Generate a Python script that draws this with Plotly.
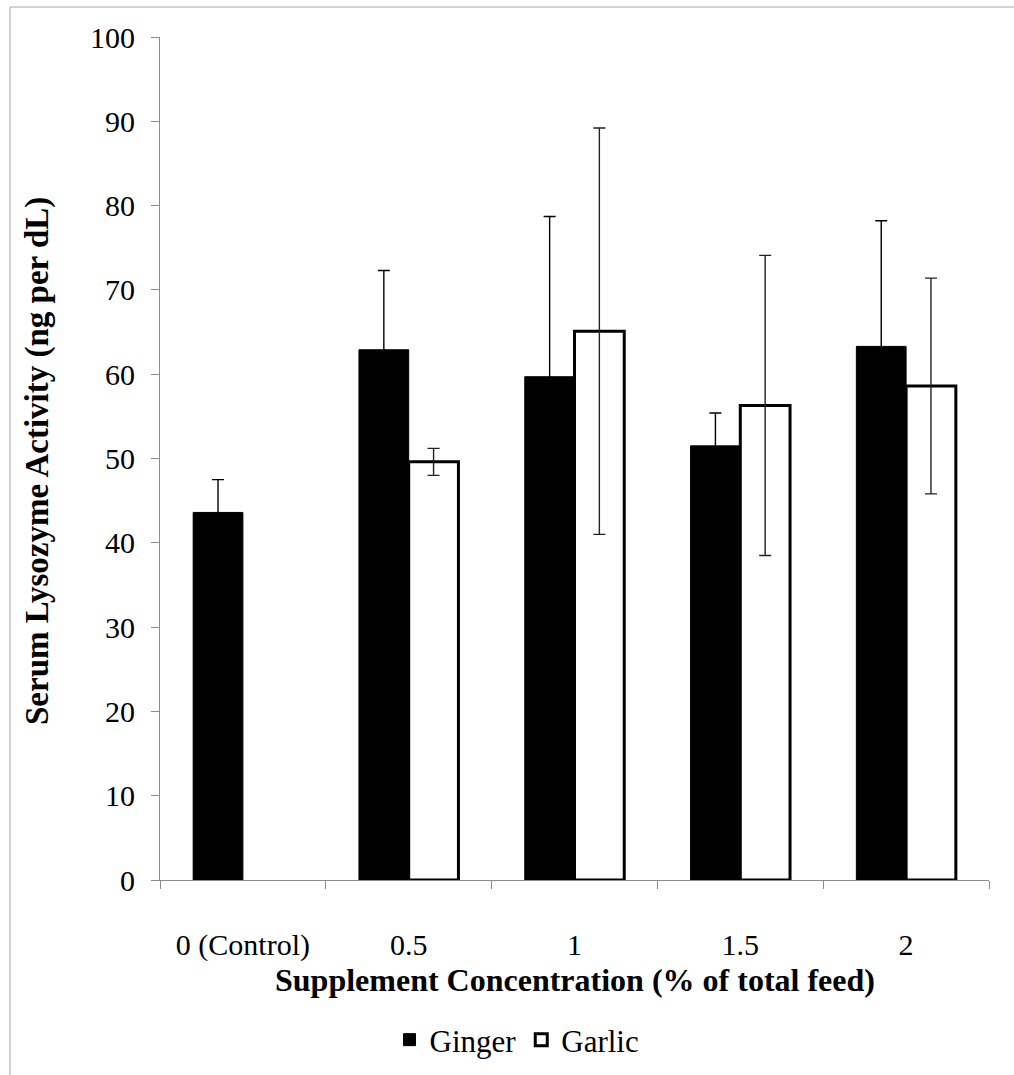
import plotly.graph_objects as go

categories = ["0 (Control)", "0.5", "1", "1.5", "2"]
ginger = [43.6, 62.9, 59.7, 51.5, 63.3]
ginger_err = [3.9, 9.4, 19.0, 3.9, 14.9]
garlic = [None, 49.6, 65.1, 56.3, 58.6]
garlic_err = [None, 1.6, 24.1, 17.8, 12.8]
y_ticks = [0, 10, 20, 30, 40, 50, 60, 70, 80, 90, 100]

W, H = 1014, 1075
L, R, T, B = 160, 25, 37, 195
pw, ph = W - L - R, H - T - B

def px(x):
    return (x - L) / pw

def py(y):
    return (H - B - y) / ph

FONT = "Liberation Serif, Times New Roman, serif"
AX = "#8c8c8c"

fig = go.Figure()
fig.add_trace(go.Bar(
    name="Ginger", x=categories, y=ginger,
    marker=dict(color="black", line=dict(color="black", width=1)),
    error_y=dict(type="data", array=ginger_err, color="black", thickness=1.4, width=6),
))
fig.add_trace(go.Bar(
    name="Garlic", x=categories, y=garlic,
    marker=dict(color="white", line=dict(color="black", width=3)),
    error_y=dict(type="data", array=garlic_err, color="#222222", thickness=1.4, width=6),
))

fig.update_layout(
    width=W, height=H,
    margin=dict(l=L, r=R, t=T, b=B, autoexpand=False),
    paper_bgcolor="white", plot_bgcolor="white",
    font=dict(family=FONT, color="black", size=30),
    barmode="group", bargap=0.4, bargroupgap=0,
    showlegend=True,
    legend=dict(orientation="h", x=px(517), xanchor="center", y=py(1040), yanchor="middle",
                font=dict(size=31, family=FONT), itemwidth=30, traceorder="normal",
                bgcolor="rgba(0,0,0,0)"),
    xaxis=dict(
        type="category", showgrid=False, showline=True, linecolor=AX, linewidth=1,
        ticks="outside", tickson="boundaries", ticklen=8, tickcolor=AX,
        tickfont=dict(size=30, family=FONT), ticklabelstandoff=38,
        range=[-0.5, 4.5],
    ),
    yaxis=dict(
        range=[0, 100], tickvals=y_ticks, showgrid=False, showline=True,
        linecolor=AX, linewidth=1, ticks="outside", ticklen=8, tickcolor=AX,
        tickfont=dict(size=30, family=FONT), ticklabelstandoff=10, zeroline=False,
    ),
    annotations=[
        dict(text="<b>Supplement Concentration (% of total feed)</b>", xref="paper", yref="paper",
             x=0.5, y=py(980), xanchor="center", yanchor="middle", showarrow=False,
             font=dict(size=32, family=FONT)),
        dict(text="<b>Serum Lysozyme Activity (ng per dL)</b>", xref="paper", yref="paper",
             x=px(38), y=py(461), xanchor="center", yanchor="middle", showarrow=False, textangle=-90,
             font=dict(size=33, family=FONT)),
    ],
    shapes=[
        dict(type="rect", xref="paper", yref="paper", x0=px(10), x1=px(1030), y0=py(1090), y1=py(7),
             line=dict(color="#a8a8a8", width=1), fillcolor="rgba(0,0,0,0)", layer="below"),
    ],
)

fig.write_html("out.html", config={"displayModeBar": False},
               post_script="document.body.style.margin='0';")
